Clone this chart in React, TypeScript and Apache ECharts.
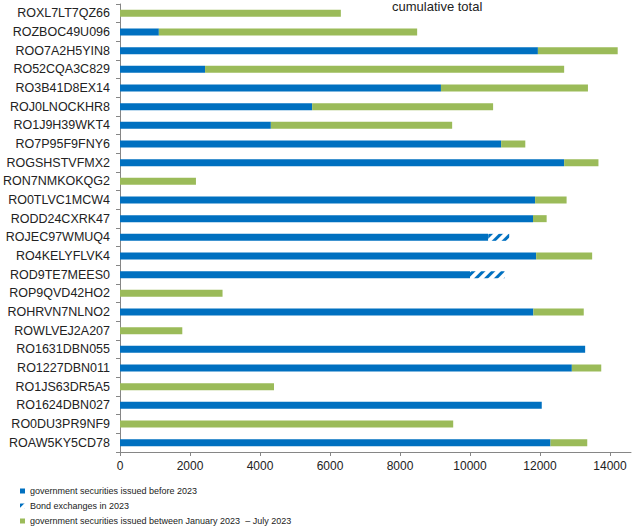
import React, { useEffect, useRef } from "react";
import * as echarts from "echarts";

const categories = [
  "ROXL7LT7QZ66", "ROZBOC49U096", "ROO7A2H5YIN8", "RO52CQA3C829", "RO3B41D8EX14",
  "ROJ0LNOCKHR8", "RO1J9H39WKT4", "RO7P95F9FNY6", "ROGSHSTVFMX2", "RON7NMKOKQG2",
  "RO0TLVC1MCW4", "RODD24CXRK47", "ROJEC97WMUQ4", "RO4KELYFLVK4", "ROD9TE7MEES0",
  "ROP9QVD42HO2", "ROHRVN7NLNO2", "ROWLVEJ2A207", "RO1631DBN055", "RO1227DBN011",
  "RO1JS63DR5A5", "RO1624DBN027", "RO0DU3PR9NF9", "ROAW5KY5CD78",
];

const before2023 = [
  0, 1110, 11940, 2430, 9170, 5490, 4310, 10890, 12690, 0, 11860, 11800,
  10520, 11890, 10000, 0, 11810, 0, 13290, 12910, 0, 12050, 0, 12300,
];

const bondExchanges2023 = [
  0, 0, 0, 0, 0, 0, 0, 0, 0, 0, 0, 0,
  600, 0, 990, 0, 0, 0, 0, 0, 0, 0, 0, 0,
];

const janToJul2023 = [
  6310, 7380, 2280, 10260, 4200, 5170, 5180, 690, 980, 2170, 900, 390,
  0, 1600, 0, 2930, 1440, 1780, 0, 840, 4400, 0, 9520, 1050,
];

const seriesNames = [
  "government securities issued before 2023",
  "Bond exchanges in 2023",
  "government securities issued between January 2023  \u2013 July 2023",
];

const titleText = "cumulative total";

const BLUE = "#0070C0";
const GREEN = "#9BBB59";
const FONT = "Liberation Sans, Arial, sans-serif";

export default function App() {
  const ref = useRef<HTMLDivElement>(null);

  useEffect(() => {
    if (!ref.current) return;
    const chart = echarts.init(ref.current, null, { renderer: "svg" });
    chart.setOption({
      animation: false,
      backgroundColor: "#ffffff",
      textStyle: { fontFamily: FONT },
      grid: {
        left: 120,
        right: 8,
        top: 4,
        bottom: 79,
        containLabel: false,
        outerBoundsMode: "none",
      },
      legend: {
        orient: "vertical",
        left: 20,
        top: 486,
        height: 45,
        padding: 0,
        itemWidth: 5,
        itemHeight: 5,
        itemGap: 5,
        icon: "rect",
        textStyle: { fontSize: 9, color: "#222", lineHeight: 10, fontFamily: FONT },
        data: seriesNames,
      },
      graphic: [
        {
          type: "text",
          left: 392,
          top: 0,
          style: {
            text: titleText,
            fontSize: 13,
            fontFamily: FONT,
            fill: "#222",
          },
        },
      ],
      xAxis: {
        type: "value",
        min: 0,
        max: 14600,
        interval: 2000,
        splitLine: { show: false },
        axisLine: { show: true, lineStyle: { color: "#868686" } },
        axisTick: { show: true, length: 4, lineStyle: { color: "#868686" } },
        axisLabel: {
          fontSize: 12,
          color: "#222",
          margin: 8,
          fontFamily: FONT,
          showMaxLabel: false,
          formatter: (v: number) => String(v),
        },
      },
      yAxis: {
        type: "category",
        inverse: true,
        data: categories,
        axisLine: { show: true, lineStyle: { color: "#868686" } },
        axisTick: { show: true, length: 4, lineStyle: { color: "#868686" } },
        axisLabel: { fontSize: 12.5, color: "#222", margin: 10, fontFamily: FONT },
      },
      series: [
        {
          name: seriesNames[0],
          type: "bar",
          stack: "total",
          barWidth: 7,
          data: before2023,
          itemStyle: { color: BLUE },
        },
        {
          name: seriesNames[1],
          type: "bar",
          stack: "total",
          barWidth: 7,
          data: bondExchanges2023,
          itemStyle: {
            color: "#ffffff",
            decal: {
              symbol: "rect",
              color: BLUE,
              backgroundColor: "#ffffff",
              dashArrayX: [1, 0],
              dashArrayY: [3, 4],
              symbolSize: 1,
              rotation: -Math.PI / 4,
            },
          },
        },
        {
          name: seriesNames[2],
          type: "bar",
          stack: "total",
          barWidth: 7,
          data: janToJul2023,
          itemStyle: { color: GREEN },
        },
      ],
    });
    return () => chart.dispose();
  }, []);

  return (
    <div
      ref={ref}
      style={{ position: "fixed", left: 0, top: 0, width: 639, height: 531 }}
    />
  );
}
